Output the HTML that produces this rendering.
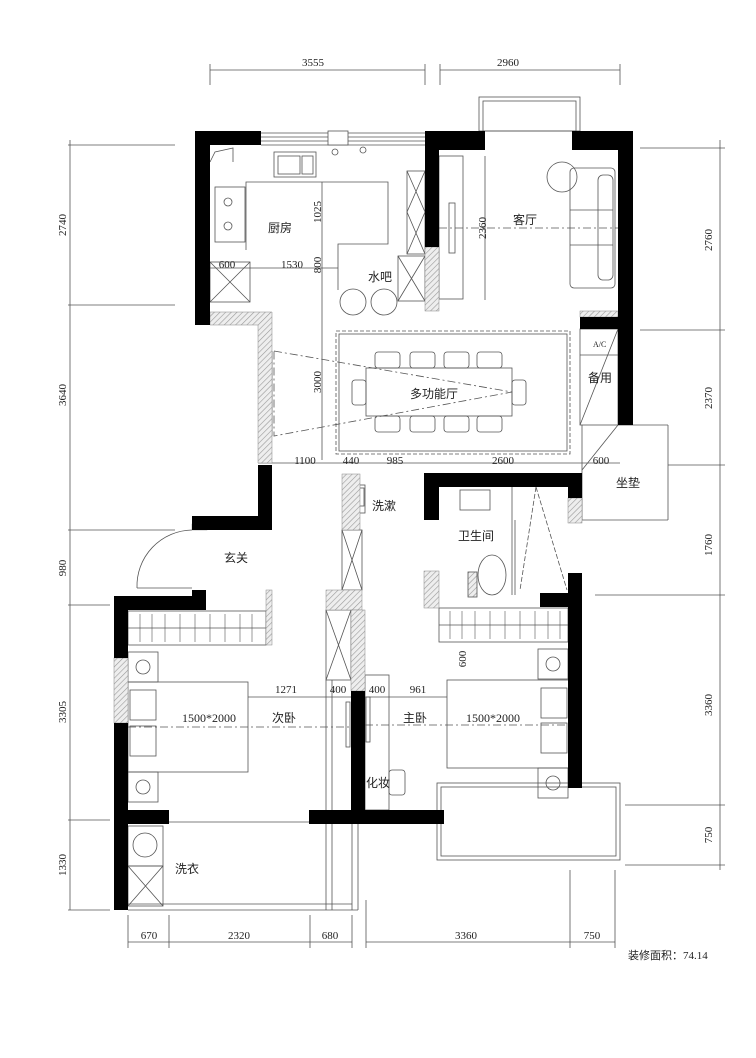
<!DOCTYPE html>
<html><head><meta charset="utf-8"><style>
html,body{margin:0;padding:0;background:#fff}
svg{display:block}
text{font-family:"Liberation Serif","Noto Sans CJK SC",serif;fill:#222}
.c{font-family:"Liberation Sans","Noto Sans CJK SC",sans-serif;font-size:12px}
.d{font-size:11px}
</style></head><body>
<svg width="756" height="1058" viewBox="0 0 756 1058" xmlns="http://www.w3.org/2000/svg">
<defs>
<pattern id="h" width="4" height="4" patternUnits="userSpaceOnUse" patternTransform="rotate(45)">
<rect width="4" height="4" fill="#eee"/><line x1="0" y1="0" x2="0" y2="4" stroke="#999" stroke-width="1.2"/></pattern>
</defs>
<g stroke="#555" stroke-width="0.8" fill="none">
<!-- top dims -->
<line x1="210" y1="70" x2="425" y2="70"/><line x1="440" y1="70" x2="620" y2="70"/>
<line x1="210" y1="64" x2="210" y2="85"/><line x1="425" y1="64" x2="425" y2="85"/>
<line x1="440" y1="64" x2="440" y2="85"/><line x1="620" y1="64" x2="620" y2="85"/>
<!-- left dims -->
<line x1="70" y1="140" x2="70" y2="910"/>
<line x1="68" y1="145" x2="175" y2="145"/><line x1="68" y1="305" x2="175" y2="305"/>
<line x1="68" y1="530" x2="175" y2="530"/><line x1="68" y1="605" x2="110" y2="605"/>
<line x1="68" y1="820" x2="110" y2="820"/><line x1="68" y1="910" x2="110" y2="910"/>
<!-- right dims -->
<line x1="720" y1="140" x2="720" y2="870"/>
<line x1="640" y1="148" x2="725" y2="148"/><line x1="640" y1="330" x2="725" y2="330"/>
<line x1="668" y1="465" x2="725" y2="465"/><line x1="595" y1="595" x2="725" y2="595"/>
<line x1="625" y1="805" x2="725" y2="805"/><line x1="625" y1="865" x2="725" y2="865"/>
<!-- bottom dims -->
<line x1="128" y1="942" x2="352" y2="942"/><line x1="366" y1="942" x2="615" y2="942"/>
<line x1="128" y1="915" x2="128" y2="948"/><line x1="169" y1="915" x2="169" y2="948"/>
<line x1="310" y1="915" x2="310" y2="948"/><line x1="352" y1="915" x2="352" y2="948"/>
<line x1="366" y1="900" x2="366" y2="948"/><line x1="570" y1="870" x2="570" y2="948"/>
<line x1="615" y1="870" x2="615" y2="948"/>
<!-- top balcony -->
<rect x="479" y="97" width="101" height="34"/><rect x="483" y="101" width="93" height="30"/>
<!-- kitchen window -->
<line x1="261" y1="133" x2="425" y2="133"/><line x1="261" y1="137" x2="425" y2="137"/><line x1="261" y1="141" x2="425" y2="141"/><line x1="261" y1="145" x2="425" y2="145"/>
<rect x="328" y="131" width="20" height="14" fill="#fff"/>
<!-- kitchen furniture -->
<rect x="274" y="152" width="42" height="25"/><rect x="278" y="156" width="22" height="18"/><rect x="302" y="156" width="11" height="18"/>
<circle cx="335" cy="152" r="3"/><circle cx="363" cy="150" r="3"/>
<rect x="215" y="187" width="30" height="55"/><circle cx="228" cy="202" r="4"/><circle cx="228" cy="226" r="4"/>
<path d="M210 162 L215 152 L233 148 L233 162"/>
<path d="M246 250 L246 182 L388 182 L388 244 L338 244 L338 290"/>
<line x1="322" y1="182" x2="322" y2="460"/>
<rect x="210" y="262" width="40" height="40"/><line x1="210" y1="262" x2="250" y2="302"/><line x1="250" y1="262" x2="210" y2="302"/>
<line x1="210" y1="268" x2="338" y2="268"/>
<circle cx="353" cy="302" r="13"/><circle cx="384" cy="302" r="13"/>
<rect x="407" y="171" width="18" height="83"/><path d="M407 171 L425 212 L407 254 M425 171 L407 212 L425 254"/>
<rect x="398" y="256" width="27" height="45"/><path d="M398 256 L425 301 M425 256 L398 301"/>
<!-- living -->
<rect x="439" y="156" width="24" height="143"/>
<rect x="449" y="203" width="6" height="50"/>
<line x1="485" y1="156" x2="485" y2="300"/>
<line x1="439" y1="228" x2="618" y2="228" stroke-dasharray="8 3 2 3"/>
<circle cx="562" cy="177" r="15"/>
<rect x="570" y="168" width="45" height="120" rx="4"/><rect x="598" y="175" width="15" height="105" rx="5"/>
<line x1="570" y1="210" x2="613" y2="210"/><line x1="570" y1="245" x2="613" y2="245"/>
<!-- dining -->
<rect x="336" y="331" width="234" height="123" stroke-dasharray="4 2"/>
<rect x="339" y="334" width="228" height="117"/>
<rect x="366" y="368" width="146" height="48"/>
<g>
<rect x="375" y="352" width="25" height="16" rx="3"/><rect x="410" y="352" width="25" height="16" rx="3"/><rect x="444" y="352" width="25" height="16" rx="3"/><rect x="477" y="352" width="25" height="16" rx="3"/>
<rect x="375" y="416" width="25" height="16" rx="3"/><rect x="410" y="416" width="25" height="16" rx="3"/><rect x="444" y="416" width="25" height="16" rx="3"/><rect x="477" y="416" width="25" height="16" rx="3"/>
<rect x="352" y="380" width="14" height="25" rx="3"/><rect x="512" y="380" width="14" height="25" rx="3"/>
</g>
<path d="M274 351 L512 392 L274 436 Z" stroke-dasharray="8 3 2 3"/>
<line x1="272" y1="351" x2="272" y2="436"/>
<!-- backup room -->
<rect x="580" y="329" width="38" height="96"/><line x1="580" y1="355" x2="618" y2="355"/>
<line x1="580" y1="425" x2="618" y2="329"/>
<line x1="582" y1="425" x2="582" y2="520"/><line x1="582" y1="520" x2="668" y2="520"/><line x1="668" y1="425" x2="668" y2="520"/>
<line x1="618" y1="425" x2="668" y2="425"/><line x1="582" y1="470" x2="618" y2="425"/>
<line x1="258" y1="463" x2="620" y2="463"/>
<!-- wash -->
<rect x="345" y="485" width="20" height="28"/><rect x="350" y="488" width="14" height="18"/>
<rect x="342" y="530" width="20" height="60"/><path d="M342 530 L362 590 M362 530 L342 590"/>
<rect x="326" y="610" width="25" height="70"/><path d="M326 610 L351 680 M351 610 L326 680"/>
<line x1="326" y1="680" x2="326" y2="910"/><line x1="332" y1="680" x2="332" y2="910"/>
<!-- entrance -->
<path d="M192 530 A 56 56 0 0 0 137 588"/><line x1="137" y1="588" x2="192" y2="588"/>
<!-- wardrobes -->
<rect x="128" y="611" width="138" height="34"/><line x1="128" y1="628" x2="266" y2="628"/>
<rect x="439" y="608" width="129" height="34"/><line x1="439" y1="625" x2="568" y2="625"/>
<g stroke-width="0.6">
<path d="M140 614 v28 M152 614 v28 M165 614 v28 M180 614 v28 M195 614 v28 M210 614 v28 M225 614 v28 M240 614 v28 M252 614 v28"/>
<path d="M450 611 v28 M462 611 v28 M475 611 v28 M490 611 v28 M505 611 v28 M520 611 v28 M535 611 v28 M548 611 v28 M560 611 v28"/>
</g>
<!-- beds -->
<rect x="128" y="682" width="120" height="90"/>
<rect x="130" y="690" width="26" height="30"/><rect x="130" y="726" width="26" height="30"/>
<rect x="447" y="680" width="122" height="88"/>
<rect x="541" y="688" width="26" height="30"/><rect x="541" y="723" width="26" height="30"/>
<line x1="128" y1="727" x2="351" y2="727" stroke-dasharray="8 3 2 3"/>
<line x1="365" y1="725" x2="568" y2="725" stroke-dasharray="8 3 2 3"/>
<rect x="128" y="652" width="30" height="30"/><circle cx="143" cy="667" r="7"/>
<rect x="128" y="772" width="30" height="30"/><circle cx="143" cy="787" r="7"/>
<rect x="538" y="649" width="30" height="30"/><circle cx="553" cy="664" r="7"/>
<rect x="538" y="768" width="30" height="30"/><circle cx="553" cy="783" r="7"/>
<line x1="248" y1="697" x2="447" y2="697"/>
<rect x="346" y="702" width="4" height="45"/><rect x="366" y="697" width="4" height="45"/>
<rect x="365" y="675" width="24" height="135"/>
<rect x="389" y="770" width="16" height="25" rx="3"/>
<!-- master bath -->
<rect x="460" y="490" width="30" height="20"/>
<line x1="512" y1="487" x2="512" y2="595"/><line x1="515" y1="520" x2="515" y2="595"/>
<path d="M536 487 L520 590 M536 487 L567 590" stroke-dasharray="5 2"/>
<ellipse cx="492" cy="575" rx="14" ry="20"/>
<rect x="468" y="572" width="9" height="25" fill="url(#h)"/>
<!-- bottom areas -->
<line x1="169" y1="822" x2="309" y2="822"/>
<rect x="128" y="826" width="35" height="40"/><circle cx="145" cy="845" r="12"/>
<rect x="128" y="866" width="35" height="40"/><path d="M128 866 L163 906 M163 866 L128 906"/>
<line x1="128" y1="904" x2="352" y2="904"/><line x1="128" y1="910" x2="358" y2="910"/>
<line x1="352" y1="824" x2="352" y2="910"/><line x1="358" y1="824" x2="358" y2="910"/>
<rect x="437" y="783" width="183" height="77"/><rect x="441" y="787" width="175" height="69"/>
</g>
<!-- hatched walls -->
<g fill="url(#h)" stroke="#888" stroke-width="0.5">
<rect x="425" y="247" width="14" height="64"/>
<path d="M210 312 L272 312 L272 463 L258 463 L258 325 L210 325 Z"/>
<rect x="580" y="311" width="38" height="6"/>
<rect x="342" y="474" width="18" height="56"/>
<rect x="326" y="590" width="36" height="20"/>
<rect x="351" y="610" width="14" height="81"/>
<rect x="114" y="658" width="14" height="65"/>
<rect x="424" y="571" width="15" height="37"/>
<rect x="568" y="498" width="14" height="25"/>
<rect x="192" y="524" width="15" height="6"/>
<rect x="266" y="590" width="6" height="55"/>
</g>
<!-- black walls -->
<g fill="#000">
<rect x="195" y="131" width="66" height="14"/><rect x="195" y="131" width="15" height="194"/>
<rect x="425" y="131" width="60" height="19"/><rect x="425" y="131" width="14" height="116"/>
<rect x="572" y="131" width="61" height="19"/><rect x="618" y="131" width="15" height="294"/>
<rect x="580" y="317" width="38" height="12"/>
<rect x="258" y="465" width="14" height="65"/><rect x="192" y="516" width="80" height="14"/>
<rect x="424" y="473" width="158" height="14"/><rect x="424" y="473" width="15" height="47"/>
<rect x="568" y="473" width="14" height="25"/>
<rect x="568" y="573" width="14" height="215"/><rect x="540" y="593" width="28" height="14"/>
<rect x="114" y="596" width="14" height="62"/><rect x="114" y="723" width="14" height="187"/>
<rect x="114" y="596" width="92" height="14"/><rect x="192" y="590" width="14" height="20"/>
<rect x="128" y="810" width="41" height="14"/>
<rect x="351" y="691" width="14" height="133"/><rect x="309" y="810" width="135" height="14"/>
</g>
<!-- dimension text -->
<g class="d" text-anchor="middle">
<text x="313" y="66">3555</text><text x="508" y="66">2960</text>
<text x="149" y="939">670</text><text x="239" y="939">2320</text><text x="330" y="939">680</text>
<text x="466" y="939">3360</text><text x="592" y="939">750</text>
<text x="227" y="268">600</text><text x="292" y="268">1530</text>
<text x="305" y="464">1100</text><text x="351" y="464">440</text><text x="395" y="464">985</text>
<text x="503" y="464">2600</text><text x="601" y="464">600</text>
<text x="286" y="693">1271</text><text x="338" y="693">400</text><text x="377" y="693">400</text><text x="418" y="693">961</text>
<text transform="translate(66,225) rotate(-90)">2740</text>
<text transform="translate(66,395) rotate(-90)">3640</text>
<text transform="translate(66,568) rotate(-90)">980</text>
<text transform="translate(66,712) rotate(-90)">3305</text>
<text transform="translate(66,865) rotate(-90)">1330</text>
<text transform="translate(712,240) rotate(-90)">2760</text>
<text transform="translate(712,398) rotate(-90)">2370</text>
<text transform="translate(712,545) rotate(-90)">1760</text>
<text transform="translate(712,705) rotate(-90)">3360</text>
<text transform="translate(712,835) rotate(-90)">750</text>
<text transform="translate(321,212) rotate(-90)">1025</text>
<text transform="translate(321,265) rotate(-90)">800</text>
<text transform="translate(321,382) rotate(-90)">3000</text>
<text transform="translate(486,228) rotate(-90)">2360</text>
<text transform="translate(466,659) rotate(-90)">600</text>
</g>
<!-- labels -->
<g class="c">
<text x="268" y="232">厨房</text><text x="368" y="281">水吧</text>
<text x="513" y="224">客厅</text><text x="410" y="398">多功能厅</text>
<text x="588" y="382">备用</text><text x="593" y="347" style="font-size:8px">A/C</text>
<text x="616" y="487">坐垫</text><text x="372" y="510">洗漱</text>
<text x="458" y="540">卫生间</text><text x="224" y="562">玄关</text>
<text x="182" y="722">1500*2000</text><text x="272" y="722">次卧</text>
<text x="403" y="722">主卧</text><text x="466" y="722">1500*2000</text>
<text x="366" y="787">化妆</text><text x="175" y="873">洗衣</text>
<text x="628" y="959" style="font-size:11px">装修面积：74.14</text>
</g>
</svg>
</body></html>
